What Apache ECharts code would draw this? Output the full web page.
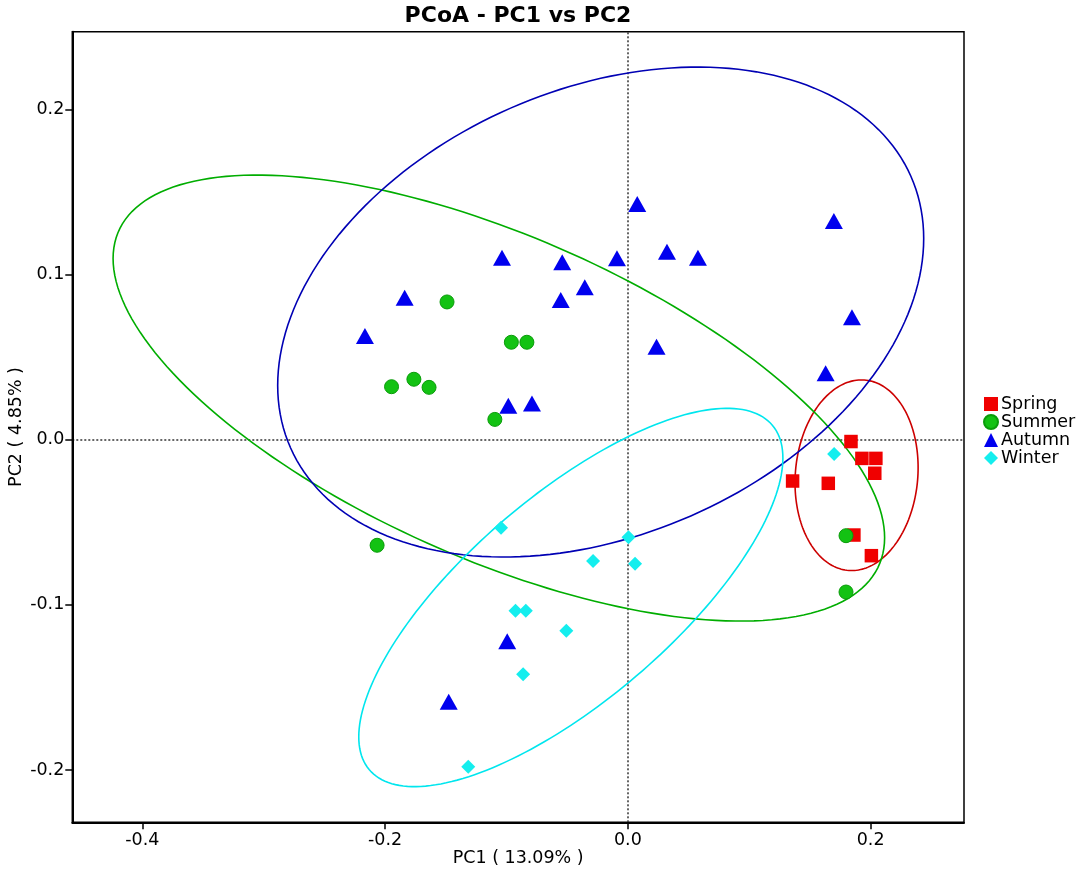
<!DOCTYPE html>
<html>
<head>
<meta charset="utf-8">
<title>PCoA - PC1 vs PC2</title>
<script src="https://cdn.jsdelivr.net/npm/echarts@6/dist/echarts.min.js"></script>
<style>
	html, body { margin: 0; padding: 0; background: #fff; }
	#main_chart { width: 1084px; height: 874px; }
</style>
</head>
<body>
<div id="main_chart"></div>
<script>
// sample scores [PC1, PC2]
var springPts = [
	[0.1838, -0.0011], [0.1928, -0.0113], [0.2043, -0.0113], [0.2034, -0.0203],
	[0.1357, -0.0250], [0.1651, -0.0264], [0.1862, -0.0577], [0.2006, -0.0702]
];
var summerPts = [
	[-0.1490, 0.0834], [-0.0960, 0.0590], [-0.0832, 0.0590], [-0.1947, 0.0321],
	[-0.1763, 0.0366], [-0.1638, 0.0317], [-0.1096, 0.0123], [-0.2066, -0.0639],
	[0.1797, -0.0581], [0.1797, -0.0922]
];
var autumnPts = [
	[-0.2166, 0.0628], [-0.1839, 0.0860], [-0.1037, 0.1102], [-0.0985, 0.0206],
	[-0.0790, 0.0220], [0.0077, 0.1427], [0.1697, 0.1324], [-0.0541, 0.1074],
	[-0.0090, 0.1098], [0.0322, 0.1138], [0.0577, 0.1102], [-0.0355, 0.0923],
	[-0.0553, 0.0846], [0.1846, 0.0741], [0.0236, 0.0563], [0.1629, 0.0402],
	[-0.0994, -0.1220], [-0.1476, -0.1586]
];
var winterPts = [
	[-0.1045, -0.0533], [-0.0926, -0.1035], [-0.0841, -0.1035], [-0.0863, -0.1420],
	[-0.1315, -0.1979], [0.1699, -0.0087], [0.0005, -0.0591], [-0.0287, -0.0734],
	[0.0059, -0.0751], [-0.0507, -0.1156]
];

// group ellipses: [centre PC1, centre PC2, half width, half height, correlation]
var springEllipse = [0.1884, -0.0215, 0.0507, 0.0577, 0.08];
var summerEllipse = [-0.1063, 0.0252, 0.3178, 0.1350, -0.626];
var autumnEllipse = [-0.0224, 0.0773, 0.2661, 0.1483, 0.30];
var winterEllipse = [-0.0470, -0.0955, 0.1747, 0.1145, 0.737];

var groupNames = ["Spring", "Summer", "Autumn", "Winter"];
var xRange = [-0.4577, 0.2769];
var yRange = [-0.2316, 0.2470];

var fontName = "DejaVu Sans";

function renderEllipse(params, api) {
	var cx = api.value(0);
	var cy = api.value(1);
	var rx = api.value(2);
	var ry = api.value(3);
	var phi = Math.acos(api.value(4));
	var pts = [];
	for (var i = 0; i <= 200; i++) {
		var t = i / 200 * 2 * Math.PI;
		pts.push(api.coord([cx + rx * Math.cos(t), cy + ry * Math.cos(t - phi)]));
	}
	return {
		type: "polyline",
		shape: { points: pts },
		style: { stroke: api.visual("color"), fill: "none", lineWidth: 1.6 }
	};
}

function ellipseSeries(name, params, color) {
	return {
		name: name + " ellipse",
		type: "custom",
		renderItem: renderEllipse,
		data: [params],
		encode: { x: 0, y: 1 },
		itemStyle: { color: color },
		silent: true,
		z: 1
	};
}

function makeChart() {
	var chart = echarts.init(document.getElementById("main_chart"), null, { renderer: "canvas" });

	var option = {
		animation: false,
		backgroundColor: "#fff",
		title: {
			text: "PCoA - PC1 vs PC2",
			left: 518,
			top: 5,
			padding: 0,
			textAlign: "center",
			textStyle: { fontFamily: fontName, fontSize: 22, fontWeight: "bold", color: "#000" }
		},
		legend: {
			data: groupNames,
			orient: "vertical",
			left: 983,
			top: 395,
			itemGap: 0,
			itemWidth: 14,
			itemHeight: 14,
			padding: 0,
			textStyle: { fontFamily: fontName, fontSize: 17.5, lineHeight: 17, color: "#000", padding: [0, 0, 0, -2] }
		},
		grid: {
			left: 72.3,
			right: 120,
			top: 31.7,
			bottom: 51.7,
			containLabel: false,
			outerBoundsMode: "none",
			show: true,
			borderColor: "#000",
			borderWidth: 1.5
		},
		xAxis: {
			type: "value",
			min: xRange[0],
			max: xRange[1],
			splitNumber: 3,
			minInterval: 0.2,
			maxInterval: 0.2,
			name: "PC1 ( 13.09% )",
			nameLocation: "middle",
			nameGap: 27,
			nameMoveOverlap: false,
			nameTextStyle: { fontFamily: fontName, fontSize: 17.5, color: "#000" },
			axisLine: { show: true, onZero: false, lineStyle: { color: "#000", width: 2 } },
			axisTick: { show: true, inside: false, length: 7, lineStyle: { color: "#000", width: 1.5 } },
			axisLabel: {
				fontFamily: fontName, fontSize: 17.5, color: "#000", margin: 9,
				showMinLabel: false, showMaxLabel: false,
				formatter: function(v) { return v.toFixed(1); }
			},
			splitLine: { show: false }
		},
		yAxis: {
			type: "value",
			min: yRange[0],
			max: yRange[1],
			splitNumber: 5,
			minInterval: 0.1,
			maxInterval: 0.1,
			name: "PC2 ( 4.85% )",
			nameLocation: "middle",
			nameGap: 47,
			nameMoveOverlap: false,
			nameTextStyle: { fontFamily: fontName, fontSize: 17.5, color: "#000" },
			axisLine: { show: true, onZero: false, lineStyle: { color: "#000", width: 2 } },
			axisTick: { show: true, inside: false, length: 7, lineStyle: { color: "#000", width: 1.5 } },
			axisLabel: {
				fontFamily: fontName, fontSize: 17.5, color: "#000", margin: 8,
				showMinLabel: false, showMaxLabel: false,
				formatter: function(v) { return v.toFixed(1); }
			},
			splitLine: { show: false }
		},
		series: [
			ellipseSeries("Spring", springEllipse, "#cc0000"),
			ellipseSeries("Summer", summerEllipse, "#00ad00"),
			ellipseSeries("Autumn", autumnEllipse, "#0000b4"),
			ellipseSeries("Winter", winterEllipse, "#00e6ee"),
			{
				name: "Spring",
				type: "scatter",
				symbol: "rect",
				symbolSize: 13.5,
				data: springPts,
				itemStyle: { color: "#f00000", opacity: 1 },
				z: 3,
				markLine: {
					silent: true,
					symbol: "none",
					label: { show: false },
					lineStyle: { color: "#333", width: 1.5, type: [2, 2] },
					data: [{ xAxis: 0 }, { yAxis: 0 }],
					z: 0
				}
			},
			{
				name: "Summer",
				type: "scatter",
				symbol: "circle",
				symbolSize: 14,
				data: summerPts,
				itemStyle: { color: "#13c213", borderColor: "#0a9c0a", borderWidth: 1, opacity: 1 },
				z: 3
			},
			{
				name: "Autumn",
				type: "scatter",
				symbol: "triangle",
				symbolSize: [18, 16],
				data: autumnPts,
				itemStyle: { color: "#0000ee", opacity: 1 },
				z: 3
			},
			{
				name: "Winter",
				type: "scatter",
				symbol: "diamond",
				symbolSize: 14,
				data: winterPts,
				itemStyle: { color: "#14eeee", opacity: 1 },
				z: 3
			}
		]
	};

	chart.setOption(option);
}

makeChart();
</script>
</body>
</html>
